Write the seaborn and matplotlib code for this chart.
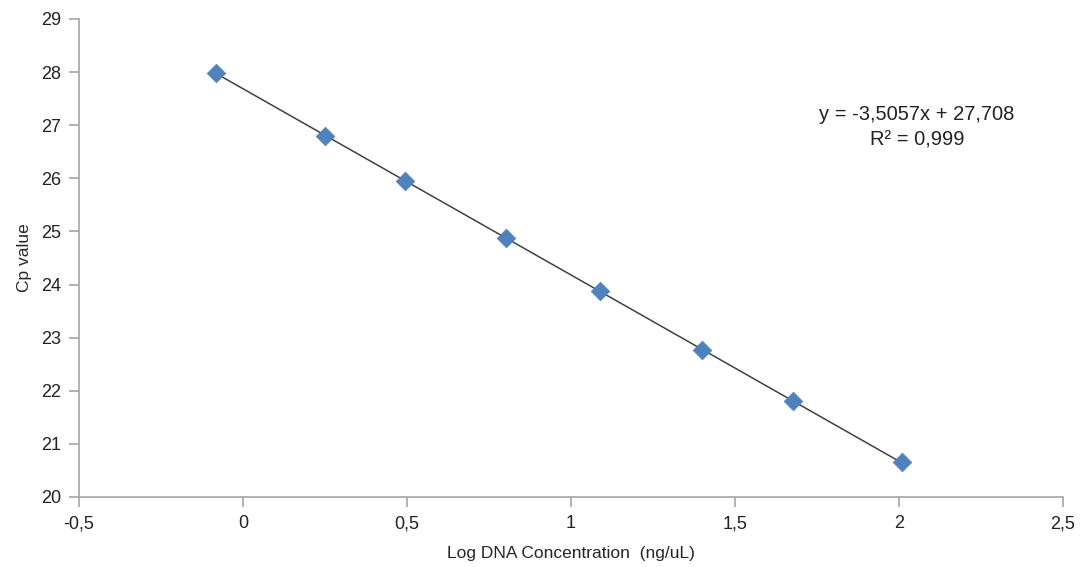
import seaborn as sns
import matplotlib.pyplot as plt
import pandas as pd
from matplotlib.ticker import FuncFormatter

log_conc = [-0.082, 0.252, 0.495, 0.802, 1.088, 1.401, 1.678, 2.010]
cp_value = [27.99, 26.80, 25.95, 24.87, 23.88, 22.76, 21.80, 20.66]
x_ticks = [-0.5, 0, 0.5, 1, 1.5, 2, 2.5]
y_ticks = list(range(20, 30))

df = pd.DataFrame({'x': log_conc, 'y': cp_value})

sns.set_style('white')
plt.rcParams['font.family'] = ['Liberation Sans', 'DejaVu Sans']

fig = plt.figure(figsize=(10.8, 5.67), dpi=100)
ax = fig.add_axes([0.073, 0.1235, 0.911, 0.843])

# trendline
sns.regplot(data=df, x='x', y='y', scatter=False, ci=None, ax=ax,
            line_kws={'color': '#404040', 'lw': 1.1})
sns.scatterplot(data=df, x='x', y='y', marker='D', s=90, color='#4F81BD',
                edgecolor='#4F81BD', linewidth=0.5, ax=ax, zorder=3)

ax.set_xlim(-0.5, 2.5)
ax.set_ylim(20, 29)
ax.set_xticks(x_ticks)
ax.set_yticks(y_ticks)
fmt = FuncFormatter(lambda v, p: ('%g' % v).replace('.', ','))
ax.xaxis.set_major_formatter(fmt)
ax.yaxis.set_major_formatter(fmt)

for s in ['top', 'right']:
    ax.spines[s].set_visible(False)
for s in ['left', 'bottom']:
    ax.spines[s].set_color('#a6a6a6')
    ax.spines[s].set_linewidth(1.2)
ax.tick_params(axis='both', direction='out', length=7, width=1.2, color='#a6a6a6',
               bottom=True, left=True, labelsize=13, labelcolor='#222222', pad=6)
ax.tick_params(axis='y', pad=6)

ax.set_xlabel('Log DNA Concentration  (ng/uL)', fontsize=12.5, labelpad=10)
ax.set_ylabel('Cp value', fontsize=12.5, labelpad=6)

ax.text(2.055, 26.96, 'y = -3,5057x + 27,708\nR² = 0,999', ha='center', va='center',
        fontsize=14.5, linespacing=1.4, color='#222222')

fig.savefig('out.png', dpi=100)
